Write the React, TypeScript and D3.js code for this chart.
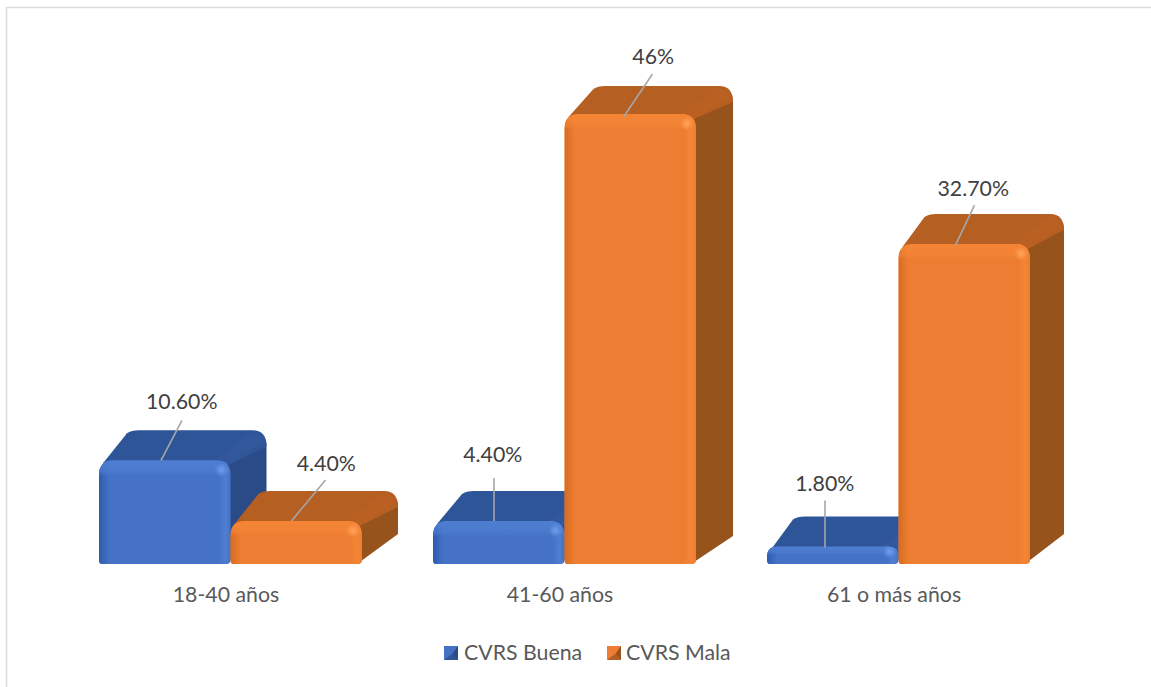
import React from "react";
import * as d3 from "d3";

const categories = ["18-40 años", "41-60 años", "61 o más años"];
const seriesNames = ["CVRS Buena", "CVRS Mala"];
const buena = [10.6, 4.4, 1.8];
const mala = [4.4, 46, 32.7];
const buenaLabels = ["10.60%", "4.40%", "1.80%"];
const malaLabels = ["4.40%", "46%", "32.70%"];
// leader line: [start dx from bar left, end dx from bar left, start dy, end dy from bar top]
const buenaLeader = [[62, 83, 0, -40], [61, 61, 0, -43], [58, 58, 1, -46]];
const malaLeader = [[61, 95, 0, -41], [59, 88, 3, -40], [57, 76, 1, -39]];
const buenaText = [[17, -58], [-6, -66], [-8, -62]];
const malaText = [[30, -57], [23, -57], [9, -55]];
// receding depth of each bar
const depthXs = [36, 37, 34];
const depthYs = [[30, 30], [30, 28], [30, 30]];

const palette = [
  { id: "b", front: "#4472C4", dark: "#2C5BAE", light: "#4F7ED2", spot: "#6E9EEC", top: "#2F5597", side: "#2A4C88", topLight: "#31589B" },
  { id: "o", front: "#ED7D31", dark: "#D56C23", light: "#F58536", spot: "#FFA45A", top: "#B65E21", side: "#97521C", topLight: "#BA6123" },
];

const W = 1151, H = 687;
const font = "Lato, 'Open Sans', sans-serif";
const fs = 21.3;

const xOuter = d3.scaleBand<string>().domain(categories).range([57, 1059]);
const xInner = d3.scaleBand<string>().domain(seriesNames).range([42, 305]);
const y = d3.scaleLinear().domain([0, 46]).range([564, 114]);

function frontPath(x: number, t: number, w: number, b: number) {
  const r = Math.min(15, (b - t) * 0.6);
  const p = d3.path();
  p.moveTo(x + 3, b);
  p.quadraticCurveTo(x, b, x, b - 4);
  p.lineTo(x, t + r);
  p.quadraticCurveTo(x, t, x + r, t);
  p.lineTo(x + w - r, t);
  p.quadraticCurveTo(x + w, t, x + w, t + r);
  p.lineTo(x + w, b - 4);
  p.quadraticCurveTo(x + w, b, x + w - 5, b);
  p.closePath();
  return p.toString();
}
function topPath(x: number, t: number, w: number, dx: number, dy: number) {
  const r = 14;
  const p = d3.path();
  p.moveTo(x + 4, t + 3);
  p.lineTo(x + dx - 8, t - dy + 3);
  p.quadraticCurveTo(x + dx - 4, t - dy, x + dx + 4, t - dy);
  p.lineTo(x + w + dx - r, t - dy);
  p.quadraticCurveTo(x + w + dx, t - dy, x + w + dx, t - dy + r + 2);
  p.lineTo(x + w - 4, t + 6);
  p.closePath();
  return p.toString();
}
function sidePath(x: number, t: number, w: number, b: number, dx: number, dy: number) {
  const p = d3.path();
  const xr = x + w;
  p.moveTo(xr - 10, t + 1);
  p.lineTo(xr + dx - 2, t - dy + 8);
  p.quadraticCurveTo(xr + dx, t - dy + 10, xr + dx, t - dy + 16);
  p.lineTo(xr + dx, b - dy);
  p.lineTo(xr - 5, b);
  p.closePath();
  return p.toString();
}
function cubeTopStrip(x: number, t: number, w: number, dx: number, dy: number) {
  const p = d3.path();
  p.moveTo(x + w - 4, t + 6);
  p.lineTo(x + w + dx - 2, t - dy + 12);
  p.lineTo(x + w + dx - 14, t - dy + 1);
  p.lineTo(x + w - 18, t + 1);
  p.closePath();
  return p.toString();
}

function Bar({ i, s, value }: any) {
  const c = palette[s];
  const x0 = xOuter(categories[i])! + xInner(seriesNames[s])!;
  const w = xInner.bandwidth();
  const t = y(value);
  const b = y(0);
  const dx = depthXs[i];
  const dy = depthYs[i][s];
  const clip = `clip-${s}-${i}`;
  const bevel = Math.min(16, (b - t) * 0.5);
  return (
    <g filter="url(#soft)">
      <path d={sidePath(x0, t, w, b, dx, dy)} fill={c.side} />
      <path d={topPath(x0, t, w, dx, dy)} fill={c.top} />
      <path d={cubeTopStrip(x0, t, w, dx, dy)} fill={c.topLight} />
      <clipPath id={clip}><path d={frontPath(x0, t, w, b)} /></clipPath>
      <path d={frontPath(x0, t, w, b)} fill={c.front} />
      <g clipPath={`url(#${clip})`}>
        <rect x={x0} y={t} width={10} height={b - t} fill={`url(#edgeL-${c.id})`} />
        <rect x={x0 + w - 12} y={t} width={12} height={b - t} fill={`url(#edgeR-${c.id})`} />
        <rect x={x0} y={t} width={w} height={bevel} fill={`url(#edgeT-${c.id})`} />
        <circle cx={x0 + w - 9} cy={t + Math.min(10, bevel * 0.6)} r={7} fill={`url(#spot-${c.id})`} />
      </g>
    </g>
  );
}

function BarLabel({ i, s, value, label, leader, text }: any) {
  const x0 = xOuter(categories[i])! + xInner(seriesNames[s])!;
  const w = xInner.bandwidth();
  const t = y(value);
  return (
    <g>
      <line x1={x0 + leader[0]} y1={t + leader[2]} x2={x0 + leader[1]} y2={t + leader[3]} stroke="#A6A6A6" strokeWidth={1.6} />
      <text x={x0 + w / 2 + text[0]} y={t + text[1] + 7} textAnchor="middle" fontFamily={font} fontSize={fs} fill="#404040">{label}</text>
    </g>
  );
}

function Defs() {
  return (
    <defs>
      <filter id="soft" x="-5%" y="-5%" width="110%" height="110%">
        <feGaussianBlur stdDeviation="0.6" />
      </filter>
      {palette.map((c) => (
        <React.Fragment key={c.id}>
          <linearGradient id={`edgeL-${c.id}`} x1="0" x2="1" y1="0" y2="0">
            <stop offset="0" stopColor={c.dark} /><stop offset="1" stopColor={c.front} />
          </linearGradient>
          <linearGradient id={`edgeR-${c.id}`} x1="0" x2="1" y1="0" y2="0">
            <stop offset="0" stopColor={c.front} /><stop offset="0.6" stopColor={c.light} /><stop offset="1" stopColor={c.front} />
          </linearGradient>
          <linearGradient id={`edgeT-${c.id}`} x1="0" x2="0" y1="0" y2="1">
            <stop offset="0" stopColor={c.light} /><stop offset="0.75" stopColor={c.light} stopOpacity={0.55} /><stop offset="1" stopColor={c.front} stopOpacity={0} />
          </linearGradient>
          <radialGradient id={`spot-${c.id}`}>
            <stop offset="0" stopColor={c.spot} /><stop offset="1" stopColor={c.spot} stopOpacity={0} />
          </radialGradient>
        </React.Fragment>
      ))}
    </defs>
  );
}

function LegendKey({ x, yy, c }: any) {
  const s = 14;
  const cx = x + s * 0.6, cy = yy + s * 0.55;
  return (
    <g filter="url(#soft)">
      <rect x={x} y={yy} width={s} height={s} fill={c.front} />
      <polygon points={`${x},${yy + s} ${x + s},${yy + s} ${cx},${cy}`} fill={c.top} />
      <polygon points={`${x + s},${yy} ${x + s},${yy + s} ${cx},${cy}`} fill={c.side} />
    </g>
  );
}

export default function App() {
  return (
    <svg width={W} height={H} style={{ position: "absolute", left: 0, top: 0, background: "#fff" }}>
      <Defs />
      <path d={`M6.5 ${H}V7.5H${W}`} fill="none" stroke="#DCDCDC" strokeWidth={1.5} />
      {categories.map((cat, i) => (
        <g key={cat}>
          <Bar i={i} s={0} value={buena[i]} />
          <Bar i={i} s={1} value={mala[i]} />
          <BarLabel i={i} s={0} value={buena[i]} label={buenaLabels[i]} leader={buenaLeader[i]} text={buenaText[i]} />
          <BarLabel i={i} s={1} value={mala[i]} label={malaLabels[i]} leader={malaLeader[i]} text={malaText[i]} />
          <text x={xOuter(cat)! + xOuter.bandwidth() / 2 + 2} y={602} textAnchor="middle" fontFamily={font} fontSize={fs} fill="#595959">{cat}</text>
        </g>
      ))}
      <LegendKey x={444} yy={646} c={palette[0]} />
      <text x={464} y={660} fontFamily={font} fontSize={fs} fill="#595959">{seriesNames[0]}</text>
      <LegendKey x={607} yy={646} c={palette[1]} />
      <text x={626} y={660} fontFamily={font} fontSize={fs} fill="#595959">{seriesNames[1]}</text>
    </svg>
  );
}
